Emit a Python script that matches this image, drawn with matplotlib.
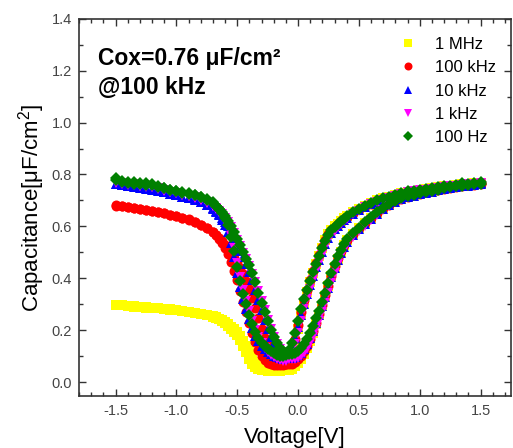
import matplotlib
matplotlib.use("Agg")
import matplotlib.pyplot as plt
from matplotlib.ticker import MultipleLocator

plt.rcParams['font.family'] = ['Liberation Sans', 'DejaVu Sans']
plt.rcParams['mathtext.fontset'] = 'custom'
plt.rcParams['mathtext.rm'] = 'Liberation Sans'
plt.rcParams['mathtext.it'] = 'Liberation Sans'
plt.rcParams['axes.unicode_minus'] = False

# ---- sweep voltage grid (V) ----
voltage = [-1.5, -1.45, -1.4, -1.35, -1.3, -1.25, -1.2, -1.15, -1.1, -1.05,
           -1.0, -0.95, -0.9, -0.85, -0.8, -0.75, -0.7,
           -0.675, -0.65, -0.625, -0.6, -0.575, -0.55, -0.525, -0.5,
           -0.475, -0.45, -0.425, -0.4, -0.375, -0.35, -0.325, -0.3,
           -0.275, -0.25, -0.225, -0.2, -0.175, -0.15, -0.125, -0.1,
           -0.075, -0.05, -0.025, 0.0, 0.025, 0.05, 0.075, 0.1,
           0.125, 0.15, 0.175, 0.2, 0.225, 0.25, 0.275, 0.3,
           0.325, 0.35, 0.375, 0.4,
           0.45, 0.5, 0.55, 0.6, 0.65, 0.7, 0.75, 0.8, 0.85, 0.9, 0.95,
           1.0, 1.05, 1.1, 1.15, 1.2, 1.25, 1.3, 1.35, 1.4, 1.45, 1.5]

# ---- 1 MHz ----
c_1MHz_fwd = [0.298, 0.296, 0.294, 0.292, 0.290, 0.288, 0.286, 0.284, 0.282, 0.280,
              0.277, 0.274, 0.270, 0.266, 0.262, 0.257, 0.251,
              0.247, 0.241, 0.234, 0.226, 0.217, 0.206, 0.194, 0.180,
              0.162, 0.140, 0.115, 0.090, 0.070, 0.057, 0.050, 0.047,
              0.045, 0.044, 0.044, 0.043, 0.043, 0.044, 0.046, 0.052,
              0.068, 0.100, 0.150, 0.205, 0.258, 0.305, 0.347, 0.386,
              0.422, 0.455, 0.486, 0.517, 0.546, 0.569, 0.586, 0.600,
              0.611, 0.622, 0.632, 0.640,
              0.655, 0.668, 0.680, 0.690, 0.700, 0.708, 0.715, 0.722, 0.728, 0.734, 0.738,
              0.742, 0.745, 0.748, 0.752, 0.755, 0.757, 0.760, 0.762, 0.765, 0.767, 0.769]
c_1MHz_rev = [0.297, 0.296, 0.293, 0.291, 0.290, 0.287, 0.285, 0.284, 0.281, 0.279,
              0.277, 0.273, 0.270, 0.267, 0.263, 0.258, 0.253,
              0.249, 0.244, 0.238, 0.231, 0.223, 0.214, 0.204, 0.192,
              0.177, 0.160, 0.140, 0.118, 0.096, 0.077, 0.063, 0.054,
              0.049, 0.047, 0.046, 0.045, 0.045, 0.045, 0.045, 0.046,
              0.048, 0.052, 0.060, 0.072, 0.088, 0.108, 0.132, 0.160,
              0.190, 0.222, 0.257, 0.294, 0.332, 0.370, 0.408, 0.445,
              0.476, 0.503, 0.527, 0.546,
              0.571, 0.593, 0.613, 0.633, 0.652, 0.670, 0.684, 0.696, 0.706, 0.714, 0.720,
              0.726, 0.731, 0.736, 0.740, 0.744, 0.748, 0.752, 0.755, 0.758, 0.761, 0.763]

# ---- 100 kHz ----
c_100kHz_fwd = [0.682, 0.678, 0.675, 0.672, 0.668, 0.664, 0.660, 0.655, 0.650, 0.645,
                0.640, 0.633, 0.626, 0.617, 0.605, 0.592, 0.577,
                0.565, 0.551, 0.535, 0.516, 0.492, 0.462, 0.428, 0.392,
                0.352, 0.310, 0.270, 0.228, 0.190, 0.155, 0.125, 0.100,
                0.084, 0.074, 0.069, 0.066, 0.065, 0.065, 0.066, 0.070,
                0.085, 0.115, 0.165, 0.220, 0.270, 0.316, 0.356, 0.393,
                0.428, 0.460, 0.490, 0.520, 0.548, 0.570, 0.586, 0.599,
                0.610, 0.620, 0.630, 0.638,
                0.652, 0.665, 0.677, 0.687, 0.697, 0.705, 0.712, 0.719, 0.725, 0.731, 0.735,
                0.739, 0.742, 0.745, 0.749, 0.752, 0.754, 0.757, 0.759, 0.762, 0.764, 0.766]
c_100kHz_rev = [0.680, 0.677, 0.673, 0.671, 0.667, 0.663, 0.659, 0.656, 0.651, 0.644,
                0.639, 0.634, 0.627, 0.618, 0.607, 0.594, 0.579,
                0.567, 0.556, 0.542, 0.527, 0.512, 0.496, 0.479, 0.461,
                0.441, 0.418, 0.390, 0.360, 0.325, 0.286, 0.246, 0.206,
                0.171, 0.141, 0.116, 0.098, 0.086, 0.078, 0.073, 0.070,
                0.069, 0.071, 0.077, 0.087, 0.100, 0.118, 0.140, 0.167,
                0.196, 0.228, 0.262, 0.298, 0.335, 0.372, 0.410, 0.447,
                0.478, 0.505, 0.528, 0.547,
                0.572, 0.593, 0.613, 0.633, 0.652, 0.670, 0.684, 0.696, 0.706, 0.714, 0.720,
                0.726, 0.731, 0.736, 0.740, 0.744, 0.748, 0.752, 0.755, 0.758, 0.761, 0.763]

# ---- 10 kHz ----
c_10kHz_fwd = [0.765, 0.760, 0.756, 0.752, 0.750, 0.745, 0.743, 0.737, 0.731, 0.726,
               0.721, 0.715, 0.709, 0.701, 0.692, 0.681, 0.668,
               0.656, 0.642, 0.626, 0.606, 0.578, 0.535, 0.480, 0.420,
               0.368, 0.320, 0.280, 0.242, 0.208, 0.178, 0.157, 0.140,
               0.128, 0.117, 0.107, 0.100, 0.095, 0.092, 0.090, 0.092,
               0.105, 0.130, 0.168, 0.212, 0.258, 0.300, 0.338, 0.374,
               0.410, 0.442, 0.472, 0.502, 0.532, 0.557, 0.576, 0.590,
               0.603, 0.614, 0.624, 0.633,
               0.649, 0.663, 0.675, 0.685, 0.695, 0.703, 0.710, 0.717, 0.723, 0.730, 0.734,
               0.738, 0.741, 0.744, 0.748, 0.751, 0.753, 0.756, 0.758, 0.761, 0.764, 0.766]
c_10kHz_rev = [0.762, 0.758, 0.755, 0.754, 0.748, 0.748, 0.742, 0.739, 0.733, 0.725,
               0.720, 0.714, 0.708, 0.704, 0.695, 0.684, 0.672,
               0.660, 0.648, 0.634, 0.618, 0.600, 0.580, 0.556, 0.530,
               0.505, 0.480, 0.454, 0.426, 0.394, 0.356, 0.315, 0.276,
               0.240, 0.205, 0.175, 0.150, 0.130, 0.115, 0.104, 0.097,
               0.093, 0.093, 0.096, 0.103, 0.113, 0.127, 0.146, 0.170,
               0.196, 0.226, 0.257, 0.292, 0.328, 0.364, 0.403, 0.440,
               0.472, 0.498, 0.522, 0.541,
               0.567, 0.588, 0.608, 0.628, 0.648, 0.666, 0.681, 0.693, 0.704, 0.712, 0.718,
               0.724, 0.729, 0.734, 0.739, 0.743, 0.747, 0.751, 0.754, 0.757, 0.760, 0.762]

# ---- 1 kHz ----
c_1kHz_fwd = [0.772, 0.766, 0.762, 0.758, 0.757, 0.752, 0.750, 0.744, 0.738, 0.733,
              0.728, 0.722, 0.716, 0.709, 0.700, 0.690, 0.678,
              0.666, 0.654, 0.640, 0.622, 0.598, 0.562, 0.515, 0.460,
              0.405, 0.355, 0.312, 0.272, 0.235, 0.200, 0.172, 0.150,
              0.132, 0.117, 0.105, 0.096, 0.089, 0.084, 0.081, 0.082,
              0.090, 0.110, 0.145, 0.188, 0.235, 0.280, 0.320, 0.357,
              0.393, 0.427, 0.458, 0.490, 0.520, 0.547, 0.568, 0.584,
              0.598, 0.609, 0.620, 0.629,
              0.646, 0.661, 0.674, 0.685, 0.695, 0.703, 0.711, 0.718, 0.724, 0.731, 0.735,
              0.739, 0.742, 0.745, 0.749, 0.752, 0.754, 0.757, 0.759, 0.762, 0.765, 0.767]
c_1kHz_rev = [0.768, 0.764, 0.761, 0.762, 0.755, 0.757, 0.750, 0.746, 0.740, 0.732,
              0.727, 0.721, 0.716, 0.712, 0.703, 0.693, 0.680,
              0.669, 0.658, 0.646, 0.632, 0.615, 0.596, 0.573, 0.548,
              0.523, 0.498, 0.473, 0.447, 0.418, 0.386, 0.350, 0.312,
              0.276, 0.240, 0.205, 0.174, 0.148, 0.127, 0.111, 0.099,
              0.091, 0.087, 0.087, 0.091, 0.099, 0.111, 0.128, 0.150,
              0.175, 0.204, 0.235, 0.270, 0.306, 0.343, 0.382, 0.420,
              0.455, 0.484, 0.510, 0.531,
              0.559, 0.582, 0.603, 0.624, 0.644, 0.663, 0.679, 0.692, 0.703, 0.712, 0.718,
              0.724, 0.729, 0.734, 0.739, 0.743, 0.747, 0.751, 0.754, 0.757, 0.760, 0.762]

# ---- 100 Hz ----
c_100Hz_fwd = [0.785, 0.775, 0.770, 0.765, 0.768, 0.760, 0.764, 0.752, 0.746, 0.742,
               0.738, 0.733, 0.728, 0.720, 0.712, 0.702, 0.690,
               0.678, 0.665, 0.650, 0.632, 0.605, 0.560, 0.505, 0.445,
               0.390, 0.340, 0.300, 0.260, 0.225, 0.192, 0.170, 0.152,
               0.140, 0.128, 0.118, 0.110, 0.105, 0.102, 0.101, 0.105,
               0.122, 0.150, 0.190, 0.235, 0.280, 0.320, 0.355, 0.390,
               0.425, 0.455, 0.485, 0.515, 0.545, 0.568, 0.585, 0.598,
               0.610, 0.620, 0.630, 0.640,
               0.655, 0.668, 0.680, 0.690, 0.700, 0.708, 0.715, 0.722, 0.728, 0.735, 0.738,
               0.742, 0.745, 0.748, 0.752, 0.755, 0.757, 0.760, 0.768, 0.765, 0.768, 0.770]
c_100Hz_rev = [0.778, 0.772, 0.768, 0.770, 0.762, 0.766, 0.758, 0.755, 0.748, 0.740,
               0.736, 0.730, 0.725, 0.722, 0.714, 0.704, 0.692,
               0.680, 0.668, 0.655, 0.640, 0.622, 0.602, 0.578, 0.552,
               0.527, 0.502, 0.476, 0.450, 0.420, 0.385, 0.345, 0.305,
               0.270, 0.235, 0.200, 0.172, 0.150, 0.133, 0.120, 0.112,
               0.108, 0.108, 0.112, 0.120, 0.130, 0.145, 0.165, 0.190,
               0.215, 0.245, 0.275, 0.310, 0.345, 0.380, 0.420, 0.455,
               0.485, 0.510, 0.532, 0.550,
               0.575, 0.595, 0.615, 0.635, 0.655, 0.672, 0.686, 0.698, 0.708, 0.716, 0.722,
               0.728, 0.733, 0.738, 0.742, 0.746, 0.750, 0.754, 0.757, 0.760, 0.763, 0.765]

labels = ['1 MHz', '100 kHz', '10 kHz', '1 kHz', '100 Hz']
colors = ['#ffff00', '#ff0000', '#0000ff', '#ff00ff', '#008000']
markers = ['s', 'o', '^', 'v', 'D']
msizes = [6.6, 7.2, 7.2, 7.2, 6.6]
series = [(c_1MHz_fwd, c_1MHz_rev), (c_100kHz_fwd, c_100kHz_rev),
          (c_10kHz_fwd, c_10kHz_rev), (c_1kHz_fwd, c_1kHz_rev),
          (c_100Hz_fwd, c_100Hz_rev)]

fig = plt.figure(figsize=(5.13, 4.48), dpi=100)
ax = fig.add_axes([0.154, 0.116, 0.842, 0.842])

for (fwd, rev), lab, col, mk, ms in zip(series, labels, colors, markers, msizes):
    xs = voltage + voltage[::-1]
    ys = fwd + rev[::-1]
    ax.plot(xs, ys, linestyle='none', marker=mk, color=col, markersize=ms,
            markeredgewidth=0, label=lab)

ax.set_xlim(-1.8, 1.75)
ax.set_ylim(-0.054, 1.4)
ax.xaxis.set_minor_locator(MultipleLocator(0.1))
ax.yaxis.set_major_locator(MultipleLocator(0.2))
ax.yaxis.set_minor_locator(MultipleLocator(0.1))
ax.set_xticks([-1.5, -1.0, -0.5, 0.0, 0.5, 1.0, 1.5])
ax.tick_params(which='both', direction='in', top=True, right=True,
               labelsize=10.5, labelcolor='#444444', color='#333333')
ax.tick_params(axis='x', which='major', pad=6)
ax.tick_params(axis='y', which='major', pad=5)
ax.tick_params(which='major', length=5, width=1.0)
ax.tick_params(which='minor', length=3, width=1.0)
for sp in ax.spines.values():
    sp.set_linewidth(1.2)
    sp.set_color('#333333')

ax.set_xlabel('Voltage[V]', fontsize=16, labelpad=6)
ax.set_ylabel('Capacitance[\u03bcF/cm$^2$]', fontsize=16, labelpad=3)

ax.text(0.044, 0.925, 'Cox=0.76 \u03bcF/cm\u00b2\n@100 kHz', transform=ax.transAxes,
        fontsize=16.5, fontweight='bold', va='top', ha='left', linespacing=1.3)

ax.legend(loc='upper left', bbox_to_anchor=(0.742, 0.952), frameon=False,
          fontsize=12, numpoints=1, handlelength=1.0, handletextpad=1.12,
          labelspacing=0.5, borderaxespad=0, borderpad=0, markerscale=0.8)

fig.savefig('out.png', dpi=100)
